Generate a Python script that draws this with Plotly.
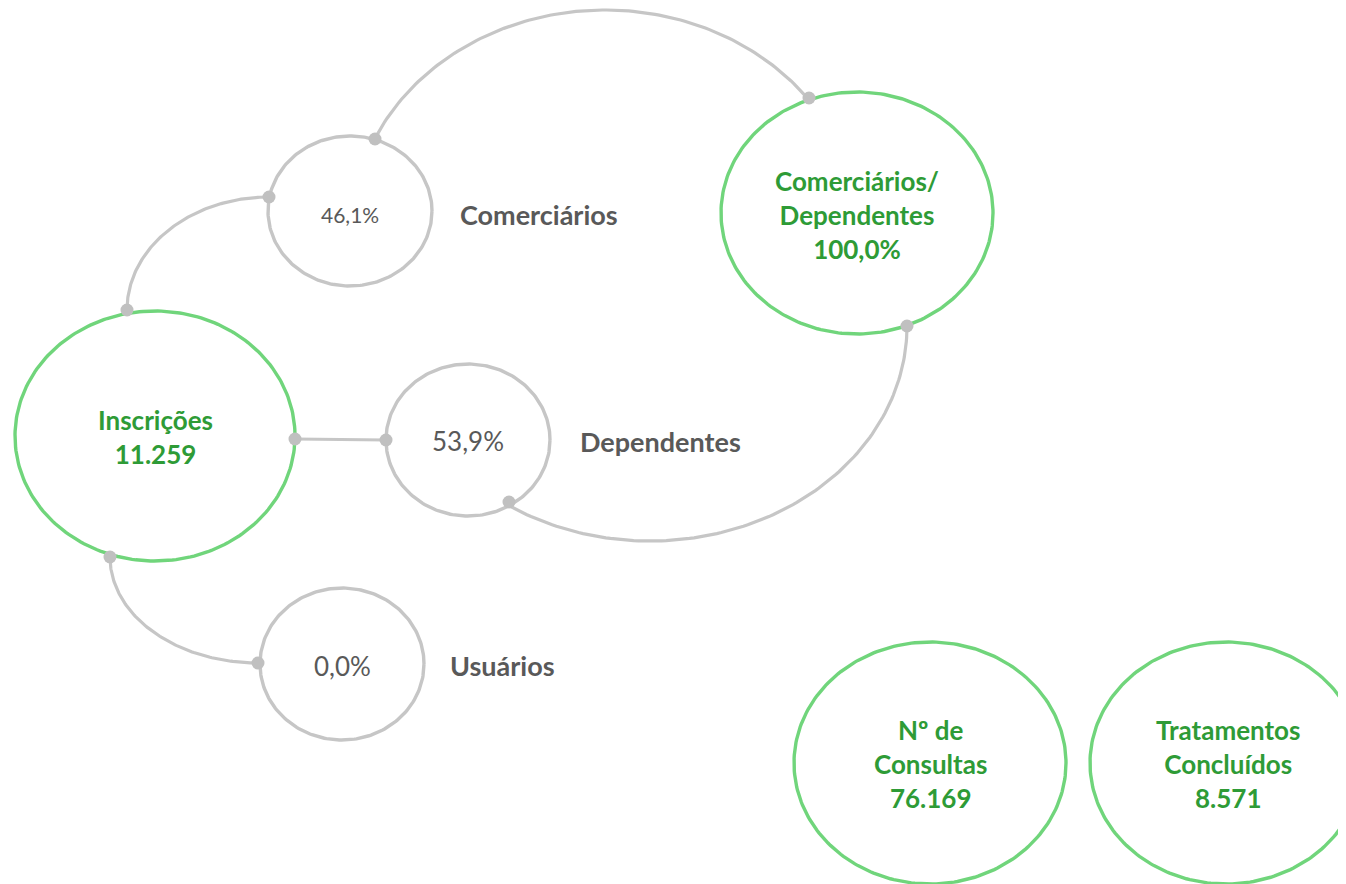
import numpy as np
import plotly.graph_objects as go

# ---------------- data ----------------
node_names = ["Inscrições", "Comerciários", "Dependentes", "Usuários",
              "Comerciários/<br>Dependentes", "Nº de<br>Consultas", "Tratamentos<br>Concluídos"]
node_values = ["11.259", "46,1%", "53,9%", "0,0%", "100,0%", "76.169", "8.571"]

# ---------------- layout constants (pixel space) ----------------
W, H = 1346, 884
OFF = 8  # page body margin
GREEN_LINE = "#70D57B"
GREEN_TEXT = "#2E9B36"
GRAY_LINE = "#C6C6C6"
GRAY_TEXT = "#595959"
FONT = "Lato"

# ellipse geometry: cx, cy, rx, ry, highlighted
geo = [
    (155, 436, 140, 125, True),    # Inscrições
    (350, 211, 82, 75, False),     # Comerciários
    (468, 440, 82, 76, False),     # Dependentes
    (342, 664, 82, 76, False),     # Usuários
    (857, 213, 136, 121, True),    # Comerciários/Dependentes
    (930, 763, 136, 121, True),    # Nº de Consultas
    (1226, 763, 136, 121, True),   # Tratamentos
]

fig = go.Figure()

def arc(cx, cy, rx, ry, t0, t1, n=120):
    t = np.radians(np.linspace(t0, t1, n))
    return cx + rx * np.cos(t), cy + ry * np.sin(t)

def ang(cx, cy, rx, ry, px, py):
    return np.degrees(np.arctan2((py - cy) / ry, (px - cx) / rx))

# connectors: ellipse (cx, cy, rx, ry) and start/end angles
conns = [
    ((269, 310, 142, 113), 180, 270),
    ((605, 230, 253, 220), ang(605, 230, 253, 220, 375, 139) % 360,
                           ang(605, 230, 253, 220, 809, 98) % 360),
    ((650, 326, 257, 215), ang(650, 326, 257, 215, 509, 502), 0),
    ((258, 557, 148, 106), 180, 90),
]
for (cx, cy, rx, ry), a0, a1 in conns:
    xs, ys = arc(cx, cy, rx, ry, a0, a1)
    fig.add_trace(go.Scatter(x=xs, y=ys, mode="lines",
                             line=dict(color=GRAY_LINE, width=3.2),
                             hoverinfo="skip", showlegend=False))

# straight connector
fig.add_trace(go.Scatter(x=[295, 386], y=[439, 440], mode="lines",
                         line=dict(color=GRAY_LINE, width=3.2),
                         hoverinfo="skip", showlegend=False))

# ellipses
for cx, cy, rx, ry, hi in geo:
    xs, ys = arc(cx, cy, rx, ry, 0, 360, 240)
    fig.add_trace(go.Scatter(x=xs, y=ys, mode="lines",
                             line=dict(color=GREEN_LINE if hi else GRAY_LINE, width=3.4),
                             hoverinfo="skip", showlegend=False))

# dots
dots_x = [375, 269, 127, 295, 386, 509, 110, 258, 809, 907]
dots_y = [139, 197, 310, 439, 440, 502, 557, 663, 98, 326]
fig.add_trace(go.Scatter(x=dots_x, y=dots_y, mode="markers",
                         marker=dict(color="#C0C0C0", size=13),
                         hoverinfo="skip", showlegend=False))

# texts in green ellipses
def gtext(x, y, txt):
    fig.add_annotation(x=x, y=y, text="<b>" + txt + "</b>", showarrow=False,
                       font=dict(family=FONT, size=26, color=GREEN_TEXT),
                       align="center", xanchor="center", yanchor="middle")

gtext(155, 437, node_names[0] + "<br>" + node_values[0])
gtext(857, 215, node_names[4] + "<br>" + node_values[4])
gtext(930, 764, node_names[5] + "<br>" + node_values[5])
gtext(1228, 764, node_names[6] + "<br>" + node_values[6])

# gray percentages and labels
pct = [(1, 350, 214, 21), (2, 468, 441, 26), (3, 342, 666, 26)]
for i, x, y, s in pct:
    fig.add_annotation(x=x, y=y, text=node_values[i], showarrow=False,
                       font=dict(family=FONT, size=s, color=GRAY_TEXT),
                       xanchor="center", yanchor="middle")
labs = [(1, 458, 214), (2, 578, 441), (3, 448, 665)]
for i, x, y in labs:
    fig.add_annotation(x=x, y=y, text="<b>" + node_names[i] + "</b>", showarrow=False,
                       font=dict(family=FONT, size=27, color=GRAY_TEXT),
                       xanchor="left", yanchor="middle")

fig.update_layout(
    width=W, height=H, margin=dict(l=0, r=0, t=0, b=0),
    paper_bgcolor="white", plot_bgcolor="white",
    xaxis=dict(range=[OFF, W + OFF], visible=False, fixedrange=True),
    yaxis=dict(range=[H + OFF, OFF], visible=False, fixedrange=True),
    showlegend=False,
)
fig.write_html("out.html", config={"displayModeBar": False})
